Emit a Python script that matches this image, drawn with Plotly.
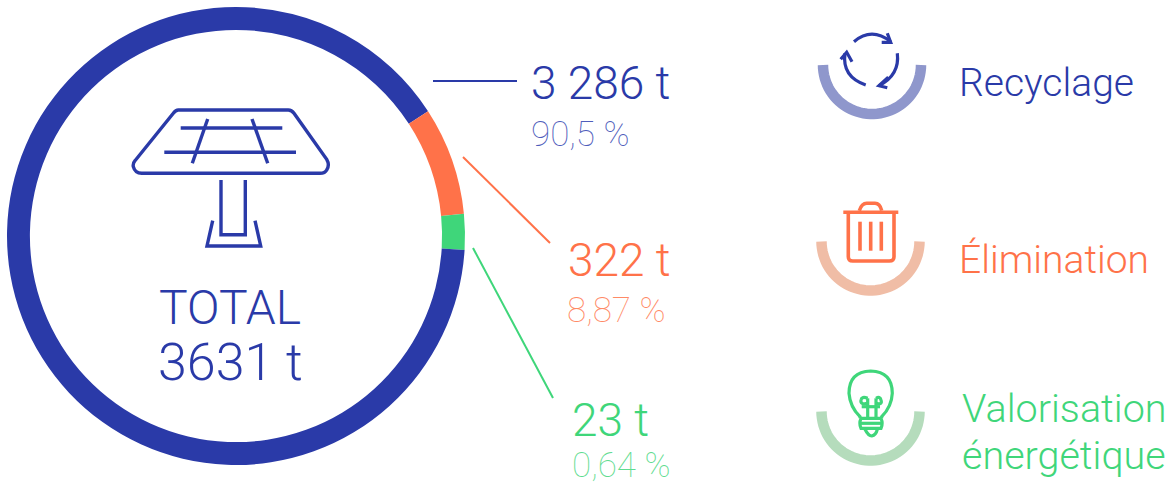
import math, re
import plotly.graph_objects as go

BLUE, ORANGE, GREEN = "#2a3aa8", "#ff7249", "#3fd67a"
# Ring sectors as drawn in the picture, in degrees clockwise from the top
ring_sectors = [57.0, 27.4, 9.1, 266.5]
ring_colors = [BLUE, ORANGE, GREEN, BLUE]
ring_names = ["Recyclage (a)", "Élimination", "Valorisation énergétique", "Recyclage (b)"]

tonnages = ["3 286 t", "322 t", "23 t"]
shares = ["90,5 %", "8,87 %", "0,64 %"]
categories = ["Recyclage", "Élimination", "Valorisation", "énergétique"]
total_labels = ["TOTAL", "3631 t"]
W, H = 1171, 486


def zpath(s, ox, oy):
    """Map an icon path from 3x crop coordinates to page pixels."""
    return re.sub(r"(-?[\d.]+) (-?[\d.]+)",
                  lambda m: f"{ox + float(m[1]) / 3:.1f} {oy + float(m[2]) / 3:.1f}", s)


def half_ring(cx, cy, r):
    pts = [(cx + r * math.cos(math.radians(180 - a)), cy + r * math.sin(math.radians(180 - a)))
           for a in range(0, 181, 4)]
    return "M" + " L".join(f"{x:.1f} {y:.1f}" for x, y in pts)


shapes = []


def stroke(path, color, width=2.6):
    shapes.append(dict(type="path", path=path, xref="x", yref="y", layer="above",
                       line=dict(color=color, width=width), fillcolor="rgba(0,0,0,0)"))


# Leader lines
for (x0, y0, x1, y1), c in [((433, 81, 517, 81), BLUE), ((463, 157, 550, 243), ORANGE),
                            ((473, 248, 553, 398), GREEN)]:
    stroke(f"M{x0} {y0} L{x1} {y1}", c, 2)

# Solar panel icon
for p in ["M205 60 L535 60 Q545 60 552 70 L650 208 Q660 225 650 240 Q645 250 630 250 L95 250 "
          "Q75 250 70 230 Q68 220 75 212 L190 70 Q197 60 205 60 Z",
          "M212 114 L517 114", "M163 187 L558 187", "M293 87 L247 220", "M426 87 L473 220",
          "M333 270 L333 434 L406 434 L406 270", "M308 392 L291 468 L452 468 L435 392"]:
    stroke(zpath(p, 110, 90), BLUE, 3.4)

# Half rings
stroke(half_ring(872, 65, 49), "#8f97cc", 10.5)
stroke(half_ring(870.5, 241.5, 49), "#f0bda6", 10.5)
stroke(half_ring(870.5, 411.5, 49), "#b5dcbc", 10.5)

# Recycle arrows
for p in ["M162 65 Q215 20 272 65", "M262 40 L272 67 L245 67",
          "M292 100 Q300 165 237 197", "M265 172 L237 197 L262 203",
          "M197 195 Q125 170 135 100", "M122 118 L140 97 L156 125"]:
    stroke(zpath(p, 800, 20), BLUE, 3.2)

# Bin
for p in ["M130 67 L295 67", "M178 62 Q185 40 200 40 L225 40 Q240 40 245 62",
          "M145 70 L145 200 Q145 213 158 213 L268 213 Q282 213 282 200 L282 70",
          "M180 95 L180 182", "M212 95 L212 182", "M244 95 L244 182"]:
    stroke(zpath(p, 800, 190), ORANGE, 3.6)

# Bulb
for p in ["M180 175 L180 170 Q150 140 147 100 Q147 35 212 33 Q277 35 277 100 Q275 140 245 170 L245 175",
          "M183 175 L243 175 Q250 190 243 205 L183 205 Q176 190 183 175 Z", "M180 190 L246 190",
          "M195 208 Q205 228 215 228 Q228 225 232 208",
          "M203 175 L203 115", "M228 175 L228 115", "M185 140 L240 140",
          "M203 130 Q180 135 183 120 Q185 108 203 115",
          "M228 130 Q248 135 243 120 Q240 108 228 115"]:
    stroke(zpath(p, 800, 360), GREEN, 3.2)


def label(x, y, text, color, size, anchor="left", weight=300):
    return dict(x=x, y=y, xref="x", yref="y", text=text, showarrow=False, xanchor=anchor,
                yanchor="middle", align=anchor,
                font=dict(family="Roboto", size=size, color=color, weight=weight))


annotations = [
    label(230, 307, total_labels[0], BLUE, 48, "center"),
    label(230, 362, total_labels[1], BLUE, 52, "center"),
    label(529, 83, tonnages[0], BLUE, 46),
    label(529, 134, shares[0], "#4f5dbb", 35, weight=100),
    label(566, 260, tonnages[1], ORANGE, 46),
    label(565, 310, shares[1], "#ff8a66", 35, weight=100),
    label(570, 420, tonnages[2], GREEN, 46),
    label(570, 465, shares[2], "#5fdc90", 35, weight=100),
    label(957, 83, categories[0], BLUE, 39),
    label(957, 260, categories[1], ORANGE, 39),
    label(960, 408, categories[2], GREEN, 39.5),
    label(960, 455, categories[3], GREEN, 39.5),
]

fig = go.Figure(go.Pie(
    values=ring_sectors, labels=ring_names, hole=0.9, sort=False, direction="clockwise",
    rotation=0, textinfo="none", hoverinfo="skip", showlegend=False,
    marker=dict(colors=ring_colors, line=dict(width=0)),
    domain=dict(x=[7 / W, 465 / W], y=[1 - 465 / H, 1 - 7 / H]),
))
fig.update_layout(
    width=W, height=H, margin=dict(l=0, r=0, t=0, b=0),
    paper_bgcolor="white", plot_bgcolor="rgba(0,0,0,0)", showlegend=False,
    xaxis=dict(range=[0, W], visible=False, fixedrange=True),
    yaxis=dict(range=[H, 0], visible=False, fixedrange=True),
    shapes=shapes, annotations=annotations,
)
fig.write_html("out.html", config=dict(displayModeBar=False),
               post_script="document.body.style.margin='0';document.documentElement.style.overflow='hidden';")
